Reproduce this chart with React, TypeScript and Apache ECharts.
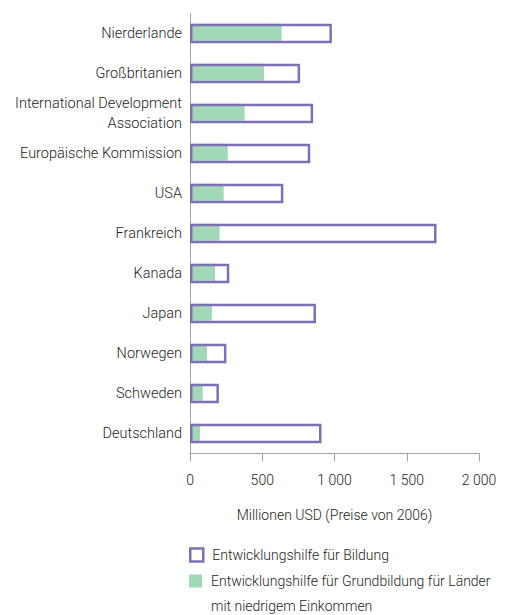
import React, { useEffect, useRef } from "react";
import * as echarts from "echarts";

const categories = [
  "Nierderlande",
  "Großbritanien",
  "International Development\nAssociation",
  "Europäische Kommission",
  "USA",
  "Frankreich",
  "Kanada",
  "Japan",
  "Norwegen",
  "Schweden",
  "Deutschland",
];
const totalAid = [982, 762, 852, 832, 646, 1706, 272, 872, 252, 200, 910];
const basicAidLowIncome = [634, 512, 378, 261, 233, 205, 173, 152, 118, 88, 69];
const xTicks = { min: 0, max: 2000, interval: 500 };
const seriesNames = ["Entwicklungshilfe für Bildung", "Entwicklungshilfe für Grundbildung für Länder"];
const legendSecondLine = "mit niedrigem Einkommen";
const axisTitle = "Millionen USD (Preise von 2006)";

const PURPLE = "#7d71b3";
const GREEN = "#a2d8b8";
const AXIS = "#a3a3a3";
const TEXT = "#1e1e1e";
const FONT = "Roboto";
const WEIGHT = 300;

export default function App() {
  const ref = useRef<HTMLDivElement>(null);
  useEffect(() => {
    document.body.style.margin = "0";
    const chart = echarts.init(ref.current!, undefined, { renderer: "svg" });
    chart.setOption({
      animation: false,
      textStyle: { fontFamily: FONT, fontWeight: WEIGHT },
      grid: { left: 190, top: 13.5, width: 289, height: 440, containLabel: false },
      xAxis: {
        type: "value",
        min: xTicks.min,
        max: xTicks.max,
        interval: xTicks.interval,
        axisLine: { show: true, lineStyle: { color: AXIS, width: 1 } },
        axisTick: { show: true, length: 8, lineStyle: { color: AXIS } },
        splitLine: { show: false },
        axisLabel: {
          color: TEXT,
          fontSize: 14,
          fontFamily: FONT,
          fontWeight: WEIGHT,
          margin: 19,
          formatter: (v: number) => String(v).replace(/\B(?=(\d{3})+(?!\d))/g, " "),
        },
        name: axisTitle,
        nameLocation: "middle",
        nameGap: 54,
        nameTextStyle: { color: TEXT, fontSize: 14, fontFamily: FONT, fontWeight: WEIGHT },
      },
      yAxis: {
        type: "category",
        inverse: true,
        data: categories,
        axisLine: { show: true, lineStyle: { color: AXIS, width: 1 } },
        axisTick: { show: false },
        axisLabel: { color: TEXT, fontSize: 14.5, fontFamily: FONT, fontWeight: WEIGHT, margin: 8, lineHeight: 20 },
      },
      legend: [
        {
          orient: "vertical",
          left: 189,
          top: 545,
          padding: 0,
          itemWidth: 13,
          itemHeight: 13,
          icon: "rect",
          textStyle: { color: TEXT, fontSize: 14, fontFamily: FONT, fontWeight: WEIGHT, lineHeight: 20, padding: [0, 0, 0, 4] },
          data: [
            {
              name: seriesNames[0],
              itemStyle: { color: "#ffffff", borderColor: PURPLE, borderWidth: 2.5 },
            },
          ],
        },
        {
          orient: "vertical",
          left: 189,
          top: 543.5,
          padding: 0,
          itemWidth: 13,
          itemHeight: 13,
          icon: "rect",
          formatter: (n: string) => " \n" + n + "\n" + legendSecondLine,
          textStyle: { color: TEXT, fontSize: 14, fontFamily: FONT, fontWeight: WEIGHT, lineHeight: 25, padding: [0, 0, 0, 4] },
          data: [{ name: seriesNames[1], itemStyle: { color: GREEN, borderWidth: 0 } }],
        },
      ],
      series: [
        {
          name: seriesNames[1],
          type: "bar",
          data: basicAidLowIncome,
          barWidth: 17,
          barGap: "-100%",
          itemStyle: { color: GREEN },
          z: 2,
        },
        {
          name: seriesNames[0],
          type: "bar",
          data: totalAid,
          barWidth: 19.5,
          barGap: "-100%",
          itemStyle: { color: "rgba(0,0,0,0)", borderColor: PURPLE, borderWidth: 2.5 },
          z: 3,
        },
      ],
    });
    return () => chart.dispose();
  }, []);
  return <div ref={ref} style={{ width: 522, height: 615 }} />;
}
